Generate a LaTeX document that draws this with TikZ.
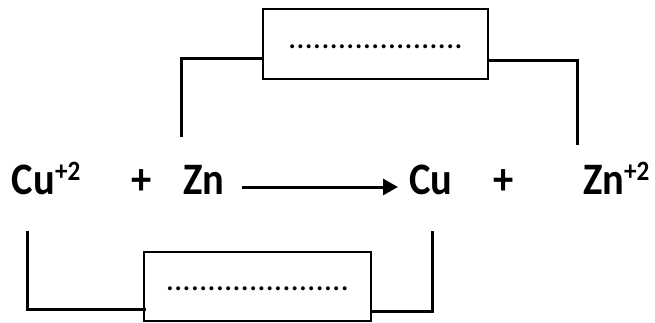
\documentclass[tikz,border=0pt]{standalone}
\usepackage{fontspec}
\setmainfont{Carlito}
\newfontfamily\chemfont[FakeStretch=0.9]{Carlito}
\usetikzlibrary{arrows.meta}
\newcommand{\supr}[1]{\raisebox{13.5pt}{\fontsize{28}{34}\selectfont #1}}
\begin{document}
\begin{tikzpicture}[x=1pt,y=-1pt,
  chem/.style={font=\chemfont\fontsize{45}{54}\selectfont\bfseries, inner sep=0pt, outer sep=0pt},
  blank/.style={draw, line width=2pt, inner sep=0pt, outer sep=0pt,
    font=\fontsize{33}{40}\selectfont, text height=8pt, text depth=0pt},
  wire/.style={line width=3pt, line cap=rect},
  arr/.style={line width=3pt, -{Triangle[length=15pt,width=16pt]}}
]
\useasboundingbox (0,0) rectangle (655,322);
\fill[white] (0,0) rectangle (655,322);

% equation
\node[chem, anchor=base west] (cu1) at (12,194) {Cu\supr{+2}};
\node[chem, anchor=base]      (p1)  at (142,194) {+};
\node[chem, anchor=base west] (zn1) at (183,194) {Zn};
\node[chem, anchor=base west] (cu2) at (409,194) {Cu};
\node[chem, anchor=base]      (p2)  at (503.5,194) {+};
\node[chem, anchor=base west] (zn2) at (583,194) {Zn\supr{+2}};

\draw[arr] ([shift={(18,-7)}]zn1.base east) -- ([shift={(-11,-7)}]cu2.base west);

% boxes
\node[blank, minimum width=225.6pt, minimum height=69.7pt] (top) at (375.5,44.2) {.....................};
\node[blank, minimum width=227pt, minimum height=69pt] (bot) at (257.5,286.5) {......................};

% wire ends
\coordinate (tl) at (181,135);
\coordinate (tr) at (577,143);
\coordinate (bl) at (27,232);
\coordinate (br) at (432,232);

\draw[wire] (tl) |- ([yshift=-14pt]top.west);
\draw[wire] ([yshift=-16pt]top.east) -| (tr);
\draw[wire] (bl) |- ([yshift=-22.5pt]bot.west);
\draw[wire] ([yshift=-24.5pt]bot.east) -| (br);
\end{tikzpicture}
\end{document}
